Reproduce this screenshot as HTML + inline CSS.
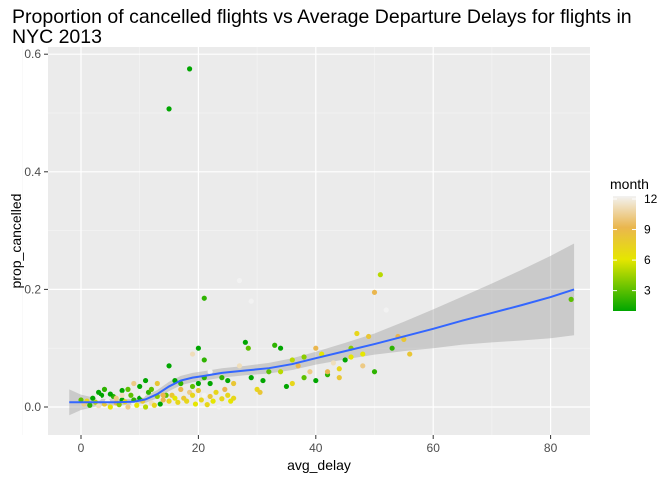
<!DOCTYPE html>
<html><head><meta charset="utf-8">
<style>
body{margin:0;background:#fff;font-family:"Liberation Sans",Arial,sans-serif;}
svg text{font-family:"Liberation Sans",Arial,sans-serif;}
</style></head>
<body>
<svg id="chart" width="672" height="480">
<text x="12" y="23" font-size="19.5" fill="#000">Proportion of cancelled flights vs Average Departure Delays for flights in</text>
<text x="12" y="43" font-size="19.5" fill="#000">NYC 2013</text>
<rect x="48" y="47" width="542" height="388" fill="#EBEBEB"/>
<g id="grid"></g>
<g id="ribbon"></g>
<g id="points"></g>
<g id="line"></g>
<g id="axes"></g>
<text x="319" y="470" font-size="14" text-anchor="middle" fill="#000">avg_delay</text>
<text transform="translate(21,241) rotate(-90)" font-size="14" text-anchor="middle" fill="#000">prop_cancelled</text>
<defs><linearGradient id="cb" x1="0" y1="1" x2="0" y2="0">
<stop offset="0" stop-color="#00A600"/><stop offset="0.45" stop-color="#E6E600"/><stop offset="0.727" stop-color="#EAB64E"/><stop offset="1" stop-color="#F2F2F2"/></linearGradient></defs>
<text x="610" y="189" font-size="14" fill="#000">month</text>
<rect x="613" y="196" width="23" height="115" fill="url(#cb)"/>
<g id="legend"></g>
</svg>
<script>
const xTicks=[0,20,40,60,80];
const yTicks=[0,0.2,0.4,0.6];
const yTickLabels=["0.0","0.2","0.4","0.6"];
const monthTicks=[3,6,9,12];
const smoothX=[-2,0,3,6,9,11,13,15,17,19,21,24,28,32,36,40,45,50,55,60,65,70,75,80,84];
const smoothY=[0.008,0.008,0.008,0.008,0.009,0.013,0.022,0.035,0.045,0.05,0.053,0.058,0.062,0.066,0.073,0.083,0.095,0.107,0.12,0.133,0.147,0.16,0.173,0.187,0.2];
const smoothSE=[0.022,0.013,0.006,0.005,0.005,0.006,0.007,0.008,0.008,0.008,0.008,0.008,0.008,0.009,0.01,0.011,0.014,0.018,0.025,0.033,0.041,0.05,0.06,0.07,0.078];
const delays=[
0,0.5,1,1.5,2,2.5,3,3.5,4,4.5,
5,5.5,6,6.5,7,7.5,8,8.5,9,9.5,
10,10.5,11,11.5,12,12.5,13,13.5,14,14.5,
3,4,5,6,7,8,9,10,11,10.5,
15,15.5,16,16.5,17,17.5,18,18.5,19,19.5,
20,20.5,21,21.5,22,22.5,23,23.5,24,24.5,
25,25.5,26,19,20,21,22,17,16,15,
19,20,21,22,24,25,26,27,28,28.5,
29,30,30.5,31,32,33,34,35,34,36,
37,38,39,40,41,42,43,44,45,46,
47,48,49,50,51,52,53,54,55,56,
48,50,46,44,42,40,38,36,27,29,
15,18.5,21,83.5,12,13,14,7,9,3];
const props=[
0.012,0.005,0.01,0.003,0.015,0.008,0.002,0.02,0.005,0.01,
0.0,0.018,0.007,0.004,0.012,0.009,0.0,0.02,0.006,0.003,
0.015,0.01,0.0,0.025,0.007,0.003,0.018,0.005,0.012,0.02,
0.025,0.03,0.022,0.015,0.028,0.03,0.012,0.035,0.045,0.02,
0.01,0.02,0.015,0.008,0.03,0.015,0.01,0.025,0.02,0.005,
0.028,0.012,0.02,0.004,0.018,0.01,0.025,0.0,0.014,0.03,
0.02,0.01,0.015,0.035,0.04,0.05,0.04,0.04,0.045,0.07,
0.09,0.1,0.08,0.06,0.05,0.045,0.04,0.07,0.11,0.1,
0.05,0.03,0.025,0.045,0.06,0.105,0.1,0.035,0.06,0.04,
0.07,0.05,0.06,0.045,0.09,0.055,0.075,0.065,0.08,0.1,
0.125,0.09,0.12,0.195,0.225,0.165,0.1,0.12,0.115,0.09,
0.07,0.06,0.085,0.05,0.06,0.1,0.085,0.08,0.215,0.18,
0.507,0.575,0.185,0.183,0.03,0.04,0.02,0.02,0.04,0.015];
const months=[
3,10,7,2,1,5,11,1,8,12,
6,2,9,4,1,7,10,3,12,6,
1,8,5,2,11,7,4,1,9,3,
1,2,1,10,1,3,2,1,1,12,
7,8,6,7,9,8,7,10,7,6,
8,7,12,7,8,6,7,12,7,9,
7,6,7,3,1,2,1,2,1,1,
11,1,2,12,2,1,8,11,1,3,
1,7,8,1,3,2,1,1,5,7,
9,3,10,1,6,2,11,7,1,4,
7,6,8,9,5,12,2,9,8,8,
10,2,6,8,9,9,4,5,12,12,
1,1,2,3,3,8,9,11,10,12];
const X=v=>81+v*5.87, Y=v=>407-v*588;
const ns="http://www.w3.org/2000/svg";
function mk(t,a,p){const e=document.createElementNS(ns,t);for(const k in a)e.setAttribute(k,a[k]);p.appendChild(e);return e;}
function col(m){const s=[[1,[0,166,0]],[6,[230,230,0]],[9,[234,182,78]],[12,[242,242,242]]];for(let i=0;i<3;i++){if(m<=s[i+1][0]){const t=(m-s[i][0])/(s[i+1][0]-s[i][0]);const c=s[i][1].map((v,j)=>Math.round(v+(s[i+1][1][j]-v)*t));return `rgb(${c})`;}}return "rgb(242,242,242)";}
const grid=document.getElementById('grid'),axes=document.getElementById('axes');
[-10,10,30,50,70].forEach(v=>{const g=mk('line',{x1:X(v),x2:X(v),y1:47,y2:435,stroke:'#F5F5F5','stroke-width':0.6},grid);});
[-0.1,0.1,0.3,0.5].forEach(v=>{const y=Y(v);if(y<47||y>435)return;const g=mk('line',{x1:48,x2:590,y1:y,y2:y,stroke:'#F5F5F5','stroke-width':0.6},grid);});
xTicks.forEach(v=>{const g=mk('line',{x1:X(v),x2:X(v),y1:47,y2:435,stroke:'#fff','stroke-width':1.2},grid);
const t=mk('line',{x1:X(v),x2:X(v),y1:435,y2:439,stroke:'#333'},axes);
const l=mk('text',{x:X(v),y:452,'font-size':12,'text-anchor':'middle',fill:'#4D4D4D'},axes);l.textContent=v;});
yTicks.forEach((v,i)=>{const g=mk('line',{x1:48,x2:590,y1:Y(v),y2:Y(v),stroke:'#fff','stroke-width':1.2},grid);
const t=mk('line',{x1:44,x2:48,y1:Y(v),y2:Y(v),stroke:'#333'},axes);
const l=mk('text',{x:41,y:Y(v)+4,'font-size':12,'text-anchor':'end',fill:'#4D4D4D'},axes);l.textContent=yTickLabels[i];});
let up=smoothX.map((x,i)=>X(x)+','+Y(smoothY[i]+smoothSE[i])),dn=smoothX.map((x,i)=>X(x)+','+Y(smoothY[i]-smoothSE[i])).reverse();
const rb=mk('polygon',{points:up.concat(dn).join(' '),fill:'#999',opacity:0.4},document.getElementById('ribbon'));

const pg=document.getElementById('points');
delays.forEach((d,i)=>{const c=mk('circle',{cx:X(d),cy:Y(props[i]),r:2.6,fill:col(months[i])},pg);});
const ln=mk('polyline',{points:smoothX.map((x,i)=>X(x)+','+Y(smoothY[i])).join(' '),fill:'none',stroke:'#3366FF','stroke-width':2},document.getElementById('line'));

const lg=document.getElementById('legend');
monthTicks.forEach(m=>{const y=311-(m-1)/11*112;
const a=mk('line',{x1:613,x2:617,y1:y,y2:y,stroke:'#fff'},lg);
const b=mk('line',{x1:632,x2:636,y1:y,y2:y,stroke:'#fff'},lg);
const t=mk('text',{x:644,y:y+4,'font-size':12,fill:'#000'},lg);t.textContent=m;});
</script>
</body></html>
